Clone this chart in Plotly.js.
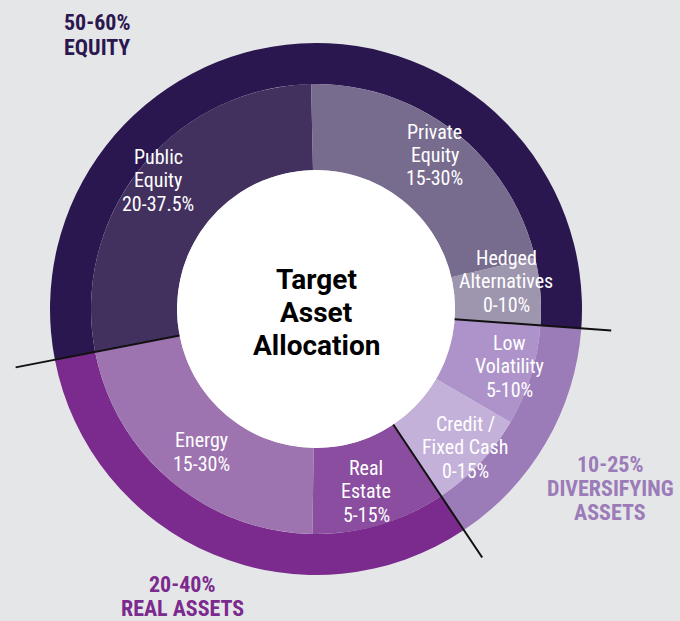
<!DOCTYPE html>
<html><head><meta charset="utf-8">
<script src="https://cdn.plot.ly/plotly-3.0.1.min.js"></script>
<style>html,body{margin:0;padding:0;background:#e5e6e8;}</style>
</head><body><div id="chart" style="width:680px;height:621px;"></div>
<script>
// ---- data ----
const groupNames = ['EQUITY', 'DIVERSIFYING ASSETS', 'REAL ASSETS'];
const groupRanges = ['50-60%', '10-25%', '20-40%'];
const groupValues = [56.25, 15, 32.5];
const subNames = ['Public Equity', 'Private Equity', 'Hedged Alternatives', 'Low Volatility', 'Credit / Fixed Cash', 'Real Estate', 'Energy'];
const subRanges = ['20-37.5%', '15-30%', '0-10%', '5-10%', '0-15%', '5-15%', '15-30%'];
const subValues = [28.75, 22.5, 5, 7.5, 7.5, 10, 22.5];
const subLines = [['Public', 'Equity'], ['Private', 'Equity'], ['Hedged', 'Alternatives'], ['Low', 'Volatility'], ['Credit /', 'Fixed Cash'], ['Real', 'Estate'], ['Energy']];
const groupLines = [['50-60%', 'EQUITY'], ['10-25%', 'DIVERSIFYING', 'ASSETS'], ['20-40%', 'REAL ASSETS']];
const centerTitle = ['Target', 'Asset', 'Allocation'];

// ---- geometry / style ----
const W = 680, H = 621;
const cx = 316, cy = 309;
const R_OUT = 266, R_MID = 225, R_IN = 139;
const ROT = -101;
const groupColors = ['#2b174f', '#9b7bb8', '#7b2a8d'];
const subColors = ['#42305f', '#776b8e', '#9e95af', '#ad93c9', '#c4b1d9', '#8a4d9f', '#9d73b0'];
const groupTextColors = ['#2b174f', '#9b7bb8', '#7b2a8d'];
const narrow = '"Roboto Condensed", "Open Sans Condensed", "DejaVu Sans Condensed", sans-serif';

function dom(r) {
  return {x: [(cx - r) / W, (cx + r) / W], y: [1 - (cy + r) / H, 1 - (cy - r) / H]};
}

const outer = {
  type: 'pie', values: groupValues, labels: groupNames, sort: false,
  direction: 'clockwise', rotation: ROT, hole: R_MID / R_OUT,
  domain: dom(R_OUT), textinfo: 'none', hoverinfo: 'none',
  marker: {colors: groupColors, line: {width: 0}}, showlegend: false
};
const inner = {
  type: 'pie', values: subValues, labels: subNames, sort: false,
  direction: 'clockwise', rotation: ROT, hole: R_IN / R_MID,
  domain: dom(R_MID), textinfo: 'none', hoverinfo: 'none',
  marker: {colors: subColors, line: {width: 0}}, showlegend: false
};

// divider lines at group boundaries
const lineOuterR = [296, 299, 306];
const shapes = [{
  type: 'circle', xref: 'paper', yref: 'paper',
  x0: (cx - R_IN) / W, x1: (cx + R_IN) / W, y0: 1 - (cy + R_IN) / H, y1: 1 - (cy - R_IN) / H,
  fillcolor: '#ffffff', line: {width: 0}, layer: 'above'
}];
const total = groupValues.reduce((a, b) => a + b, 0);
let cum = 0;
groupValues.forEach((v, i) => {
  cum += v;
  const th = (ROT + cum / total * 360) * Math.PI / 180;
  const p = r => [(cx + r * Math.sin(th)) / W, 1 - (cy - r * Math.cos(th)) / H];
  const a = p(R_IN), b = p(lineOuterR[i]);
  shapes.push({type: 'line', xref: 'paper', yref: 'paper', x0: a[0], y0: a[1], x1: b[0], y1: b[1],
    line: {color: '#111111', width: 2}, layer: 'above'});
});

const annotations = [];
function addText(lines, x, yc, size, spacing, color, family) {
  const n = lines.length;
  lines.forEach((t, k) => {
    const y = yc + (k - (n - 1) / 2) * spacing;
    annotations.push({text: t, x: x / W, y: 1 - y / H, xref: 'paper', yref: 'paper',
      xanchor: 'center', yanchor: 'middle', showarrow: false,
      font: {family: family, size: size, color: color}});
  });
}
// segment labels
const subPos = [[158, 180], [435, 155], [506, 281], [509, 366], [465, 447], [366, 491], [201, 452]];
subLines.forEach((ls, i) => {
  addText(ls.concat([subRanges[i]]), subPos[i][0], subPos[i][1], 20, 23.5, '#ffffff', narrow);
});
// group labels
const groupPos = [[97, 35], [610, 488], [182, 596]];
groupLines.forEach((ls, i) => {
  addText(ls.map(s => '<b>' + s + '</b>'), groupPos[i][0], groupPos[i][1], 22, 24, groupTextColors[i], narrow);
});
// center title
addText(centerTitle.map(s => '<b>' + s + '</b>'), cx, 312, 28, 33, '#000000', 'Roboto, "Liberation Sans", Arial, sans-serif');

Plotly.newPlot('chart', [outer, inner], {
  width: W, height: H, margin: {l: 0, r: 0, t: 0, b: 0},
  paper_bgcolor: '#e5e6e8', plot_bgcolor: '#e5e6e8',
  shapes: shapes, annotations: annotations, showlegend: false
}, {displayModeBar: false, staticPlot: true});
</script></body></html>
